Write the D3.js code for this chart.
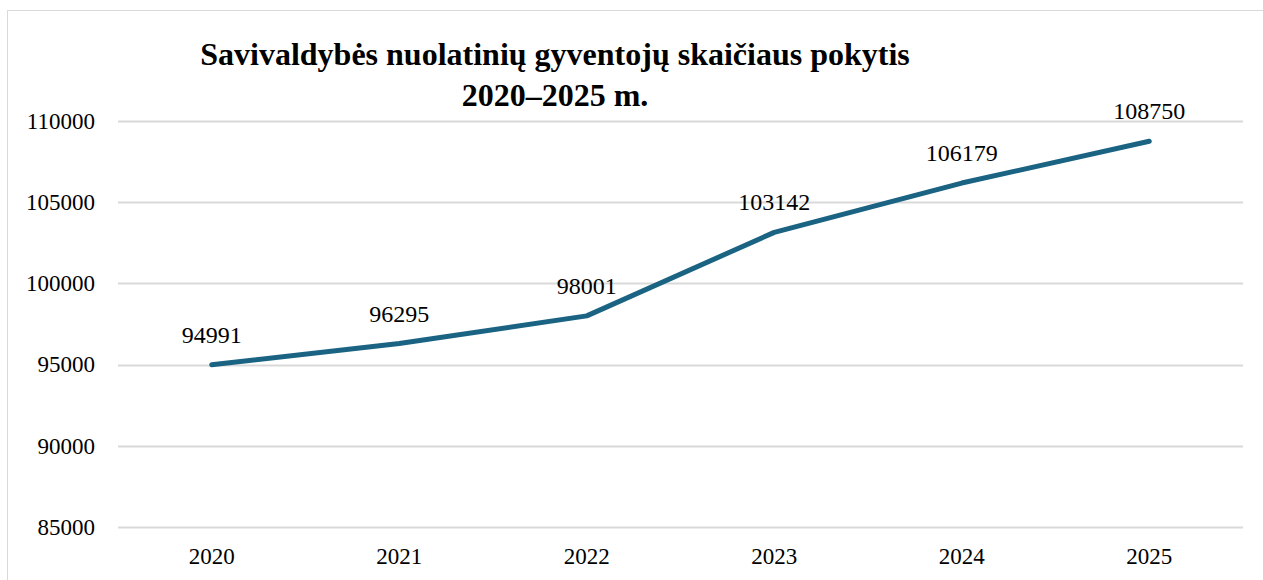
<!DOCTYPE html>
<html>
<head>
<meta charset="utf-8">
<script src="https://cdn.jsdelivr.net/npm/d3@7"></script>
<style>
  body { margin: 0; background: #fff; }
  svg text { font-family: "Liberation Serif", "Times New Roman", serif; fill: #000; }
</style>
</head>
<body>
<svg id="chart" width="1263" height="580"></svg>
<script>
// data
var years = ["2020", "2021", "2022", "2023", "2024", "2025"];
var residents = [94991, 96295, 98001, 103142, 106179, 108750];
var yTicks = [85000, 90000, 95000, 100000, 105000, 110000];
var titleLines = ["Savivaldybės nuolatinių gyventojų skaičiaus pokytis", "2020–2025 m."];

var svg = d3.select("#chart");
var width = 1263, height = 580;

// outer chart border
svg.append("rect")
    .attr("x", 7.5)
    .attr("y", 10.5)
    .attr("width", width)
    .attr("height", height)
    .attr("fill", "none")
    .attr("stroke", "#d9d9d9")
    .attr("stroke-width", 1);

var x = d3.scaleBand()
    .domain(years)
    .range([118, 1243]);

var y = d3.scaleLinear()
    .domain([85000, 110000])
    .range([527, 121]);

// gridlines
var grid = svg.append("g").attr("class", "grid");
grid.selectAll("line")
    .data(yTicks)
    .enter()
    .append("line")
    .attr("x1", 118)
    .attr("x2", 1243)
    .attr("y1", function(d) { return Math.round(y(d)) + 0.5; })
    .attr("y2", function(d) { return Math.round(y(d)) + 0.5; })
    .attr("stroke", "#d9d9d9")
    .attr("stroke-width", 2);

// y axis labels
var yAxis = d3.axisLeft(y).tickValues(yTicks).tickSize(0).tickPadding(23).tickFormat(d3.format("d"));
var gY = svg.append("g").attr("transform", "translate(118,0)").call(yAxis);
gY.attr("font-family", null);
gY.select(".domain").remove();
gY.selectAll("text").style("font-size", "23px").style("font-family", "Liberation Serif").attr("fill", "#000");

// x axis labels
var xAxis = d3.axisBottom(x).tickSize(0).tickPadding(21);
var gX = svg.append("g").attr("transform", "translate(0,527)").call(xAxis);
gX.attr("font-family", null);
gX.select(".domain").remove();
gX.selectAll("text").style("font-size", "23px").style("font-family", "Liberation Serif").attr("fill", "#000");

// the line
var line = d3.line()
    .x(function(d, i) { return x(years[i]) + x.bandwidth() / 2; })
    .y(function(d) { return y(d); });

svg.append("path")
    .datum(residents)
    .attr("d", line)
    .attr("fill", "none")
    .attr("stroke", "#1b6383")
    .attr("stroke-width", 5)
    .attr("stroke-linecap", "round")
    .attr("stroke-linejoin", "round");

// value labels above the points
svg.append("g").selectAll("text")
    .data(residents)
    .enter()
    .append("text")
    .attr("x", function(d, i) { return x(years[i]) + x.bandwidth() / 2; })
    .attr("y", function(d) { return y(d) - 22; })
    .attr("text-anchor", "middle")
    .style("font-size", "24px")
    .text(function(d) { return d; });

// title
svg.append("g").selectAll("text")
    .data(titleLines)
    .enter()
    .append("text")
    .attr("x", 555)
    .attr("y", function(d, i) { return 65 + i * 41; })
    .attr("text-anchor", "middle")
    .style("font-size", "32px")
    .style("font-weight", "bold")
    .text(function(d) { return d; });
</script>
</body>
</html>
